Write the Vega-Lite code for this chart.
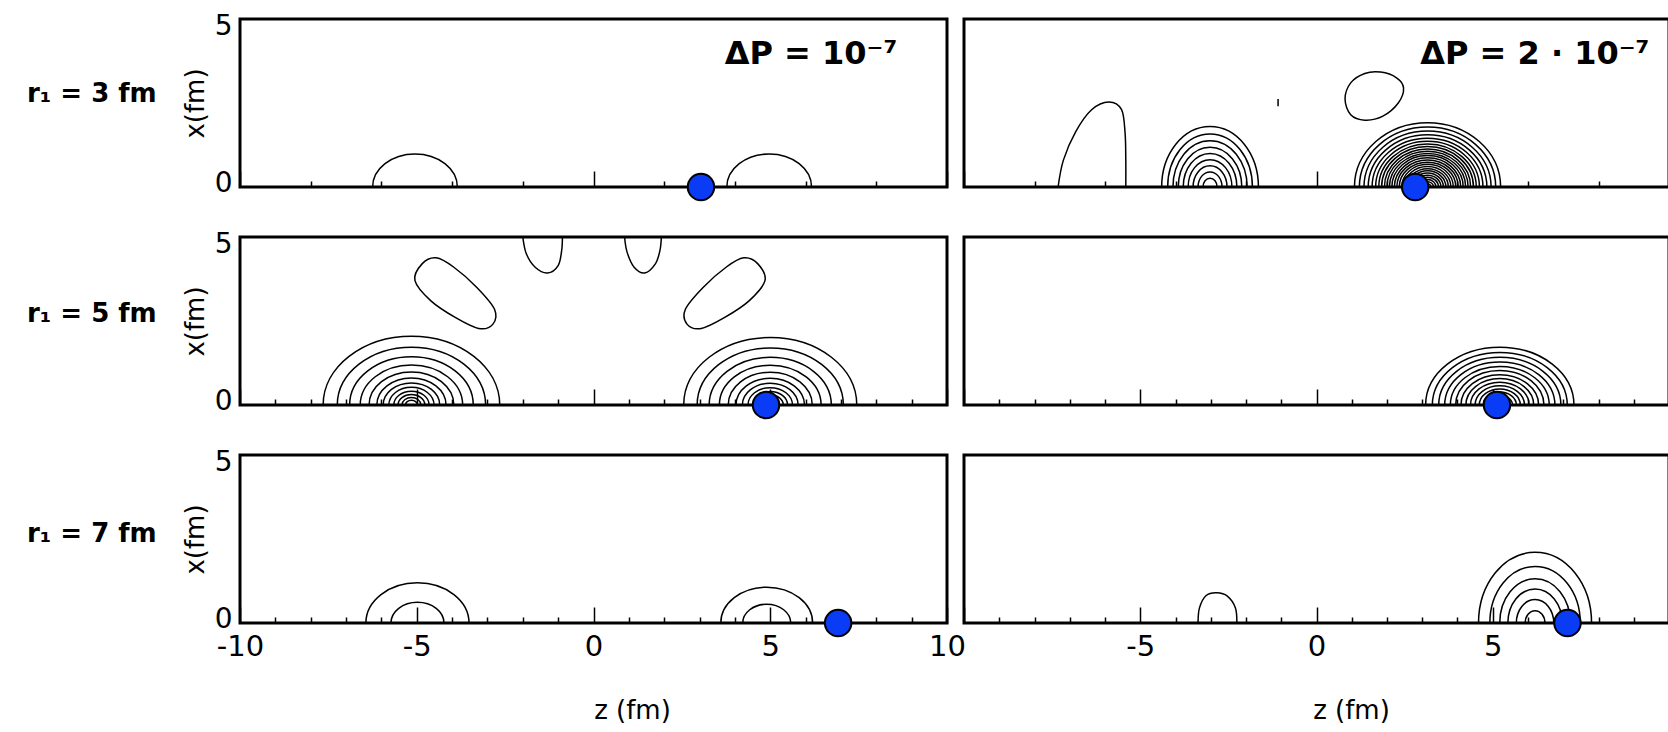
{
  "$schema": "https://vega.github.io/schema/vega-lite/v6.json",
  "background": "white",
  "padding": {"left": 27, "top": 10, "right": 0, "bottom": 0},
  "config": {
    "font": "DejaVu Sans",
    "view": {"stroke": "black", "strokeWidth": 3},
    "axis": {"domain": false, "grid": false, "tickColor": "black", "tickWidth": 1.5, "labelColor": "black", "titleColor": "black"}
  },
  "datasets": {
    "rings": [
      {"panel": "r3a", "z": -5.05, "x": 0, "rz": 1.2, "form": "flat"},
      {"panel": "r3a", "z": 4.97, "x": 0, "rz": 1.2, "form": "flat"},
      {"panel": "r3b", "z": -3.02, "x": 0, "rz": 1.37, "form": "tall"},
      {"panel": "r3b", "z": -3.02, "x": 0, "rz": 1.2, "form": "tall"},
      {"panel": "r3b", "z": -3.02, "x": 0, "rz": 1.05, "form": "tall"},
      {"panel": "r3b", "z": -3.02, "x": 0, "rz": 0.9, "form": "tall"},
      {"panel": "r3b", "z": -3.02, "x": 0, "rz": 0.76, "form": "tall"},
      {"panel": "r3b", "z": -3.02, "x": 0, "rz": 0.62, "form": "tall"},
      {"panel": "r3b", "z": -3.02, "x": 0, "rz": 0.48, "form": "tall"},
      {"panel": "r3b", "z": -3.02, "x": 0, "rz": 0.34, "form": "tall"},
      {"panel": "r3b", "z": -3.02, "x": 0, "rz": 0.2, "form": "tall"},
      {"panel": "r3b", "z": 3.15, "x": 0, "rz": 2.07, "form": "mid"},
      {"panel": "r3b", "z": 3.15, "x": 0, "rz": 1.93, "form": "mid"},
      {"panel": "r3b", "z": 3.15, "x": 0, "rz": 1.8, "form": "mid"},
      {"panel": "r3b", "z": 3.15, "x": 0, "rz": 1.68, "form": "mid"},
      {"panel": "r3b", "z": 3.15, "x": 0, "rz": 1.57, "form": "mid"},
      {"panel": "r3b", "z": 3.15, "x": 0, "rz": 1.47, "form": "mid"},
      {"panel": "r3b", "z": 3.15, "x": 0, "rz": 1.38, "form": "mid"},
      {"panel": "r3b", "z": 3.15, "x": 0, "rz": 1.3, "form": "mid"},
      {"panel": "r3b", "z": 3.15, "x": 0, "rz": 1.22, "form": "mid"},
      {"panel": "r3b", "z": 3.15, "x": 0, "rz": 1.15, "form": "mid"},
      {"panel": "r3b", "z": 3.15, "x": 0, "rz": 1.08, "form": "mid"},
      {"panel": "r3b", "z": 3.15, "x": 0, "rz": 1.01, "form": "mid"},
      {"panel": "r3b", "z": 3.15, "x": 0, "rz": 0.94, "form": "mid"},
      {"panel": "r3b", "z": 3.15, "x": 0, "rz": 0.87, "form": "mid"},
      {"panel": "r3b", "z": 3.15, "x": 0, "rz": 0.8, "form": "mid"},
      {"panel": "r3b", "z": 3.15, "x": 0, "rz": 0.73, "form": "mid"},
      {"panel": "r3b", "z": 3.15, "x": 0, "rz": 0.66, "form": "mid"},
      {"panel": "r3b", "z": 3.15, "x": 0, "rz": 0.59, "form": "mid"},
      {"panel": "r3b", "z": 3.15, "x": 0, "rz": 0.52, "form": "mid"},
      {"panel": "r3b", "z": 3.15, "x": 0, "rz": 0.45, "form": "mid"},
      {"panel": "r3b", "z": 3.15, "x": 0, "rz": 0.38, "form": "mid"},
      {"panel": "r3b", "z": 3.15, "x": 0, "rz": 0.31, "form": "mid"},
      {"panel": "r3b", "z": 3.15, "x": 0, "rz": 0.24, "form": "mid"},
      {"panel": "r3b", "z": 3.15, "x": 0, "rz": 0.17, "form": "mid"},
      {"panel": "r3b", "z": 3.15, "x": 0, "rz": 0.1, "form": "mid"},
      {"panel": "r5a", "z": -5.15, "x": 0, "rz": 2.5, "form": "flat"},
      {"panel": "r5a", "z": -5.15, "x": 0, "rz": 2.1, "form": "flat"},
      {"panel": "r5a", "z": -5.15, "x": 0, "rz": 1.75, "form": "flat"},
      {"panel": "r5a", "z": -5.15, "x": 0, "rz": 1.45, "form": "flat"},
      {"panel": "r5a", "z": -5.15, "x": 0, "rz": 1.2, "form": "flat"},
      {"panel": "r5a", "z": -5.15, "x": 0, "rz": 0.98, "form": "flat"},
      {"panel": "r5a", "z": -5.15, "x": 0, "rz": 0.8, "form": "flat"},
      {"panel": "r5a", "z": -5.15, "x": 0, "rz": 0.64, "form": "flat"},
      {"panel": "r5a", "z": -5.15, "x": 0, "rz": 0.5, "form": "flat"},
      {"panel": "r5a", "z": -5.15, "x": 0, "rz": 0.38, "form": "flat"},
      {"panel": "r5a", "z": -5.15, "x": 0, "rz": 0.27, "form": "flat"},
      {"panel": "r5a", "z": -5.15, "x": 0, "rz": 0.17, "form": "flat"},
      {"panel": "r5a", "z": 5.0, "x": 0, "rz": 2.45, "form": "flat"},
      {"panel": "r5a", "z": 5.0, "x": 0, "rz": 2.07, "form": "flat"},
      {"panel": "r5a", "z": 5.0, "x": 0, "rz": 1.73, "form": "flat"},
      {"panel": "r5a", "z": 5.0, "x": 0, "rz": 1.44, "form": "flat"},
      {"panel": "r5a", "z": 5.0, "x": 0, "rz": 1.19, "form": "flat"},
      {"panel": "r5a", "z": 5.0, "x": 0, "rz": 0.97, "form": "flat"},
      {"panel": "r5a", "z": 5.0, "x": 0, "rz": 0.79, "form": "flat"},
      {"panel": "r5a", "z": 5.0, "x": 0, "rz": 0.63, "form": "flat"},
      {"panel": "r5a", "z": 5.0, "x": 0, "rz": 0.49, "form": "flat"},
      {"panel": "r5a", "z": 5.0, "x": 0, "rz": 0.37, "form": "flat"},
      {"panel": "r5a", "z": 5.0, "x": 0, "rz": 0.26, "form": "flat"},
      {"panel": "r5a", "z": 5.0, "x": 0, "rz": 0.16, "form": "flat"},
      {"panel": "r5b", "z": 5.2, "x": 0, "rz": 2.1, "form": "flat"},
      {"panel": "r5b", "z": 5.2, "x": 0, "rz": 1.91, "form": "flat"},
      {"panel": "r5b", "z": 5.2, "x": 0, "rz": 1.73, "form": "flat"},
      {"panel": "r5b", "z": 5.2, "x": 0, "rz": 1.56, "form": "flat"},
      {"panel": "r5b", "z": 5.2, "x": 0, "rz": 1.4, "form": "flat"},
      {"panel": "r5b", "z": 5.2, "x": 0, "rz": 1.25, "form": "flat"},
      {"panel": "r5b", "z": 5.2, "x": 0, "rz": 1.1, "form": "flat"},
      {"panel": "r5b", "z": 5.2, "x": 0, "rz": 0.96, "form": "flat"},
      {"panel": "r5b", "z": 5.2, "x": 0, "rz": 0.83, "form": "flat"},
      {"panel": "r5b", "z": 5.2, "x": 0, "rz": 0.7, "form": "flat"},
      {"panel": "r5b", "z": 5.2, "x": 0, "rz": 0.58, "form": "flat"},
      {"panel": "r5b", "z": 5.2, "x": 0, "rz": 0.47, "form": "flat"},
      {"panel": "r5b", "z": 5.2, "x": 0, "rz": 0.36, "form": "flat"},
      {"panel": "r5b", "z": 5.2, "x": 0, "rz": 0.26, "form": "flat"},
      {"panel": "r5b", "z": 5.2, "x": 0, "rz": 0.16, "form": "flat"},
      {"panel": "r7a", "z": -4.98, "x": 0, "rz": 1.46, "form": "flat"},
      {"panel": "r7a", "z": -4.98, "x": 0, "rz": 0.75, "form": "flat"},
      {"panel": "r7a", "z": 4.9, "x": 0, "rz": 1.3, "form": "flat"},
      {"panel": "r7a", "z": 4.9, "x": 0, "rz": 0.68, "form": "flat"},
      {"panel": "r7b", "z": 6.2, "x": 0, "rz": 1.6, "form": "tall"},
      {"panel": "r7b", "z": 6.2, "x": 0, "rz": 1.28, "form": "tall"},
      {"panel": "r7b", "z": 6.2, "x": 0, "rz": 1.0, "form": "tall"},
      {"panel": "r7b", "z": 6.2, "x": 0, "rz": 0.77, "form": "tall"},
      {"panel": "r7b", "z": 6.2, "x": 0, "rz": 0.53, "form": "tall"},
      {"panel": "r7b", "z": 6.2, "x": 0, "rz": 0.28, "form": "tall"}
    ],
    "curves": [
      {"panel": "r3b", "id": "t1", "seq": 1, "z": -7.33, "x": 0},
      {"panel": "r3b", "id": "t1", "seq": 2, "z": -7.18, "x": 0.8},
      {"panel": "r3b", "id": "t1", "seq": 3, "z": -6.83, "x": 1.65},
      {"panel": "r3b", "id": "t1", "seq": 4, "z": -6.38, "x": 2.3},
      {"panel": "r3b", "id": "t1", "seq": 5, "z": -5.89, "x": 2.53},
      {"panel": "r3b", "id": "t1", "seq": 6, "z": -5.53, "x": 2.3},
      {"panel": "r3b", "id": "t1", "seq": 7, "z": -5.43, "x": 1.6},
      {"panel": "r3b", "id": "t1", "seq": 8, "z": -5.41, "x": 0.8},
      {"panel": "r3b", "id": "t1", "seq": 9, "z": -5.41, "x": 0},
      {"panel": "r3b", "id": "t2", "seq": 1, "z": -1.09, "x": 2.4},
      {"panel": "r3b", "id": "t2", "seq": 2, "z": -1.09, "x": 2.62},
      {"panel": "r5a", "id": "a1", "seq": 1, "z": -2.0, "x": 5},
      {"panel": "r5a", "id": "a1", "seq": 2, "z": -1.9, "x": 4.5},
      {"panel": "r5a", "id": "a1", "seq": 3, "z": -1.65, "x": 4.1},
      {"panel": "r5a", "id": "a1", "seq": 4, "z": -1.3, "x": 3.93},
      {"panel": "r5a", "id": "a1", "seq": 5, "z": -1.0, "x": 4.15},
      {"panel": "r5a", "id": "a1", "seq": 6, "z": -0.9, "x": 4.6},
      {"panel": "r5a", "id": "a1", "seq": 7, "z": -0.88, "x": 5},
      {"panel": "r5a", "id": "a2", "seq": 1, "z": 0.88, "x": 5},
      {"panel": "r5a", "id": "a2", "seq": 2, "z": 0.95, "x": 4.55},
      {"panel": "r5a", "id": "a2", "seq": 3, "z": 1.15, "x": 4.1},
      {"panel": "r5a", "id": "a2", "seq": 4, "z": 1.45, "x": 3.93},
      {"panel": "r5a", "id": "a2", "seq": 5, "z": 1.75, "x": 4.2},
      {"panel": "r5a", "id": "a2", "seq": 6, "z": 1.88, "x": 4.6},
      {"panel": "r5a", "id": "a2", "seq": 7, "z": 1.92, "x": 5},
      {"panel": "r7b", "id": "b1", "seq": 1, "z": -3.36, "x": 0},
      {"panel": "r7b", "id": "b1", "seq": 2, "z": -3.32, "x": 0.45},
      {"panel": "r7b", "id": "b1", "seq": 3, "z": -3.13, "x": 0.82},
      {"panel": "r7b", "id": "b1", "seq": 4, "z": -2.83, "x": 0.9},
      {"panel": "r7b", "id": "b1", "seq": 5, "z": -2.53, "x": 0.8},
      {"panel": "r7b", "id": "b1", "seq": 6, "z": -2.3, "x": 0.45},
      {"panel": "r7b", "id": "b1", "seq": 7, "z": -2.26, "x": 0}
    ],
    "loops": [
      {"panel": "r3b", "id": "e1", "seq": 1, "z": 0.81, "x": 2.62},
      {"panel": "r3b", "id": "e1", "seq": 2, "z": 0.97, "x": 3.1},
      {"panel": "r3b", "id": "e1", "seq": 3, "z": 1.37, "x": 3.38},
      {"panel": "r3b", "id": "e1", "seq": 4, "z": 1.82, "x": 3.42},
      {"panel": "r3b", "id": "e1", "seq": 5, "z": 2.27, "x": 3.25},
      {"panel": "r3b", "id": "e1", "seq": 6, "z": 2.47, "x": 2.95},
      {"panel": "r3b", "id": "e1", "seq": 7, "z": 2.32, "x": 2.5},
      {"panel": "r3b", "id": "e1", "seq": 8, "z": 1.87, "x": 2.1},
      {"panel": "r3b", "id": "e1", "seq": 9, "z": 1.37, "x": 1.99},
      {"panel": "r3b", "id": "e1", "seq": 10, "z": 0.97, "x": 2.15},
      {"panel": "r5a", "id": "e2", "seq": 1, "z": -5.05, "x": 3.7},
      {"panel": "r5a", "id": "e2", "seq": 2, "z": -4.85, "x": 4.2},
      {"panel": "r5a", "id": "e2", "seq": 3, "z": -4.45, "x": 4.38},
      {"panel": "r5a", "id": "e2", "seq": 4, "z": -3.95, "x": 4.1},
      {"panel": "r5a", "id": "e2", "seq": 5, "z": -3.3, "x": 3.5},
      {"panel": "r5a", "id": "e2", "seq": 6, "z": -2.8, "x": 2.85},
      {"panel": "r5a", "id": "e2", "seq": 7, "z": -2.85, "x": 2.4},
      {"panel": "r5a", "id": "e2", "seq": 8, "z": -3.25, "x": 2.28},
      {"panel": "r5a", "id": "e2", "seq": 9, "z": -3.9, "x": 2.6},
      {"panel": "r5a", "id": "e2", "seq": 10, "z": -4.6, "x": 3.1},
      {"panel": "r5a", "id": "e3", "seq": 1, "z": 4.85, "x": 3.7},
      {"panel": "r5a", "id": "e3", "seq": 2, "z": 4.65, "x": 4.2},
      {"panel": "r5a", "id": "e3", "seq": 3, "z": 4.25, "x": 4.38},
      {"panel": "r5a", "id": "e3", "seq": 4, "z": 3.75, "x": 4.1},
      {"panel": "r5a", "id": "e3", "seq": 5, "z": 3.1, "x": 3.5},
      {"panel": "r5a", "id": "e3", "seq": 6, "z": 2.6, "x": 2.85},
      {"panel": "r5a", "id": "e3", "seq": 7, "z": 2.65, "x": 2.4},
      {"panel": "r5a", "id": "e3", "seq": 8, "z": 3.05, "x": 2.28},
      {"panel": "r5a", "id": "e3", "seq": 9, "z": 3.7, "x": 2.6},
      {"panel": "r5a", "id": "e3", "seq": 10, "z": 4.4, "x": 3.1}
    ],
    "dots": [
      {"panel": "r3a", "z": 3.04, "x": 0},
      {"panel": "r3b", "z": 2.8, "x": 0},
      {"panel": "r5a", "z": 4.88, "x": 0},
      {"panel": "r5b", "z": 5.12, "x": 0},
      {"panel": "r7a", "z": 6.92, "x": 0},
      {"panel": "r7b", "z": 7.12, "x": 0}
    ]
  },
  "vconcat": [
    {
      "title": {"text": "r₁ = 3 fm", "orient": "left", "anchor": "middle", "angle": 0, "align": "left", "baseline": "middle", "fontSize": 26, "fontWeight": "bold", "offset": 24, "dy": -14},
      "bounds": "flush",
      "spacing": 17,
      "hconcat": [
        {
          "width": 707, "height": 168,
          "layer": [
            {
              "encoding": {
                "x": {"field": "z", "type": "quantitative", "scale": {"domain": [-10, 10], "nice": false, "zero": false},
                      "axis": {"values": [-10,-9,-8,-7,-6,-5,-4,-3,-2,-1,0,1,2,3,4,5,6,7,8,9,10], "labels": false, "title": null,
                               "tickSize": {"condition": {"test": "datum.value % 5 === 0", "value": -16}, "value": -6}}},
                "y": {"field": "x", "type": "quantitative", "scale": {"domain": [0, 5], "nice": false, "zero": false},
                      "axis": {"values": [0, 5], "ticks": false, "labelFontSize": 28, "labelPadding": 8,
                               "labelOffset": {"condition": {"test": "datum.value === 5", "value": 7}, "value": -4},
                               "title": "x(fm)", "titleFontSize": 26, "titleFontWeight": "normal", "titlePadding": 6}}
              },
              "layer": [
                {"data": {"name": "rings"}, "transform": [{"filter": "datum.panel === 'r3a'"}],
                 "mark": {"type": "point", "filled": false, "stroke": "black", "strokeWidth": 1.5, "opacity": 1},
                 "encoding": {
                   "size": {"field": "rz", "type": "quantitative", "scale": {"type": "pow", "exponent": 2, "domain": [0, 1], "range": [0, 4990]}, "legend": null},
                   "shape": {"field": "form", "type": "nominal", "legend": null, "scale": {"domain": ["flat", "mid", "round", "tall"], "range": [
                     "M-1,0C-1,-0.431,-0.552,-0.78,0,-0.78C0.552,-0.78,1,-0.431,1,0",
                     "M-1,0C-1,-0.486,-0.552,-0.88,0,-0.88C0.552,-0.88,1,-0.486,1,0",
                     "M-1,0C-1,-0.552,-0.552,-1,0,-1C0.552,-1,1,-0.552,1,0",
                     "M-1,0C-1,-0.69,-0.552,-1.25,0,-1.25C0.552,-1.25,1,-0.69,1,0"]}}
                 }},
                {"data": {"name": "dots"}, "transform": [{"filter": "datum.panel === 'r3a'"}],
                 "mark": {"type": "point", "shape": "circle", "filled": true, "fill": "#0a3cf5", "stroke": "black", "strokeWidth": 2, "size": 700, "opacity": 1}}
              ]
            },
            {"data": {"values": [{"label": "ΔP = 10⁻⁷"}]},
             "mark": {"type": "text", "align": "right", "baseline": "alphabetic", "fontSize": 32, "fontWeight": "bold", "color": "black"},
             "encoding": {"x": {"datum": 8.6, "type": "quantitative"}, "y": {"datum": 3.65, "type": "quantitative"}, "text": {"field": "label", "type": "nominal"}}}
          ]
        },
        {
          "width": 705, "height": 168,
          "layer": [
            {
              "encoding": {
                "x": {"field": "z", "type": "quantitative", "scale": {"domain": [-10, 10], "nice": false, "zero": false},
                      "axis": {"values": [-10,-9,-8,-7,-6,-5,-4,-3,-2,-1,0,1,2,3,4,5,6,7,8,9,10], "labels": false, "title": null,
                               "tickSize": {"condition": {"test": "datum.value % 5 === 0", "value": -16}, "value": -6}}},
                "y": {"field": "x", "type": "quantitative", "scale": {"domain": [0, 5], "nice": false, "zero": false},
                      "axis": {"labels": false, "ticks": false, "title": null}}
              },
              "layer": [
                {"data": {"name": "rings"}, "transform": [{"filter": "datum.panel === 'r3b'"}],
                 "mark": {"type": "point", "filled": false, "stroke": "black", "strokeWidth": 1.5, "opacity": 1},
                 "encoding": {
                   "size": {"field": "rz", "type": "quantitative", "scale": {"type": "pow", "exponent": 2, "domain": [0, 1], "range": [0, 4990]}, "legend": null},
                   "shape": {"field": "form", "type": "nominal", "legend": null, "scale": {"domain": ["flat", "mid", "round", "tall"], "range": [
                     "M-1,0C-1,-0.431,-0.552,-0.78,0,-0.78C0.552,-0.78,1,-0.431,1,0",
                     "M-1,0C-1,-0.486,-0.552,-0.88,0,-0.88C0.552,-0.88,1,-0.486,1,0",
                     "M-1,0C-1,-0.552,-0.552,-1,0,-1C0.552,-1,1,-0.552,1,0",
                     "M-1,0C-1,-0.69,-0.552,-1.25,0,-1.25C0.552,-1.25,1,-0.69,1,0"]}}
                 }},
                {"data": {"name": "curves"}, "transform": [{"filter": "datum.panel === 'r3b'"}],
                 "mark": {"type": "line", "stroke": "black", "strokeWidth": 1.5, "interpolate": "cardinal"},
                 "encoding": {"detail": {"field": "id"}, "order": {"field": "seq", "type": "quantitative"}}},
                {"data": {"name": "loops"}, "transform": [{"filter": "datum.panel === 'r3b'"}],
                 "mark": {"type": "line", "stroke": "black", "strokeWidth": 1.5, "interpolate": "cardinal-closed"},
                 "encoding": {"detail": {"field": "id"}, "order": {"field": "seq", "type": "quantitative"}}},
                {"data": {"name": "dots"}, "transform": [{"filter": "datum.panel === 'r3b'"}],
                 "mark": {"type": "point", "shape": "circle", "filled": true, "fill": "#0a3cf5", "stroke": "black", "strokeWidth": 2, "size": 700, "opacity": 1}}
              ]
            },
            {"data": {"values": [{"label": "ΔP = 2 · 10⁻⁷"}]},
             "mark": {"type": "text", "align": "right", "baseline": "alphabetic", "fontSize": 32, "fontWeight": "bold", "color": "black"},
             "encoding": {"x": {"datum": 9.45, "type": "quantitative"}, "y": {"datum": 3.65, "type": "quantitative"}, "text": {"field": "label", "type": "nominal"}}}
          ]
        }
      ]
    },
    {
      "title": {"text": "r₁ = 5 fm", "orient": "left", "anchor": "middle", "angle": 0, "align": "left", "baseline": "middle", "fontSize": 26, "fontWeight": "bold", "offset": 24, "dy": -12},
      "bounds": "flush",
      "spacing": 17,
      "hconcat": [
        {
          "width": 707, "height": 168,
          "encoding": {
            "x": {"field": "z", "type": "quantitative", "scale": {"domain": [-10, 10], "nice": false, "zero": false},
                  "axis": {"values": [-10,-9,-8,-7,-6,-5,-4,-3,-2,-1,0,1,2,3,4,5,6,7,8,9,10], "labels": false, "title": null,
                           "tickSize": {"condition": {"test": "datum.value % 5 === 0", "value": -16}, "value": -6}}},
            "y": {"field": "x", "type": "quantitative", "scale": {"domain": [0, 5], "nice": false, "zero": false},
                  "axis": {"values": [0, 5], "ticks": false, "labelFontSize": 28, "labelPadding": 8,
                           "labelOffset": {"condition": {"test": "datum.value === 5", "value": 7}, "value": -4},
                           "title": "x(fm)", "titleFontSize": 26, "titleFontWeight": "normal", "titlePadding": 6}}
          },
          "layer": [
            {"data": {"name": "rings"}, "transform": [{"filter": "datum.panel === 'r5a'"}],
             "mark": {"type": "point", "filled": false, "stroke": "black", "strokeWidth": 1.5, "opacity": 1},
             "encoding": {
               "size": {"field": "rz", "type": "quantitative", "scale": {"type": "pow", "exponent": 2, "domain": [0, 1], "range": [0, 4990]}, "legend": null},
               "shape": {"field": "form", "type": "nominal", "legend": null, "scale": {"domain": ["flat", "mid", "round", "tall"], "range": [
                 "M-1,0C-1,-0.431,-0.552,-0.78,0,-0.78C0.552,-0.78,1,-0.431,1,0",
                 "M-1,0C-1,-0.486,-0.552,-0.88,0,-0.88C0.552,-0.88,1,-0.486,1,0",
                 "M-1,0C-1,-0.552,-0.552,-1,0,-1C0.552,-1,1,-0.552,1,0",
                 "M-1,0C-1,-0.69,-0.552,-1.25,0,-1.25C0.552,-1.25,1,-0.69,1,0"]}}
             }},
            {"data": {"name": "curves"}, "transform": [{"filter": "datum.panel === 'r5a'"}],
             "mark": {"type": "line", "stroke": "black", "strokeWidth": 1.5, "interpolate": "cardinal"},
             "encoding": {"detail": {"field": "id"}, "order": {"field": "seq", "type": "quantitative"}}},
            {"data": {"name": "loops"}, "transform": [{"filter": "datum.panel === 'r5a'"}],
             "mark": {"type": "line", "stroke": "black", "strokeWidth": 1.5, "interpolate": "cardinal-closed"},
             "encoding": {"detail": {"field": "id"}, "order": {"field": "seq", "type": "quantitative"}}},
            {"data": {"name": "dots"}, "transform": [{"filter": "datum.panel === 'r5a'"}],
             "mark": {"type": "point", "shape": "circle", "filled": true, "fill": "#0a3cf5", "stroke": "black", "strokeWidth": 2, "size": 700, "opacity": 1}}
          ]
        },
        {
          "width": 705, "height": 168,
          "encoding": {
            "x": {"field": "z", "type": "quantitative", "scale": {"domain": [-10, 10], "nice": false, "zero": false},
                  "axis": {"values": [-10,-9,-8,-7,-6,-5,-4,-3,-2,-1,0,1,2,3,4,5,6,7,8,9,10], "labels": false, "title": null,
                           "tickSize": {"condition": {"test": "datum.value % 5 === 0", "value": -16}, "value": -6}}},
            "y": {"field": "x", "type": "quantitative", "scale": {"domain": [0, 5], "nice": false, "zero": false},
                  "axis": {"labels": false, "ticks": false, "title": null}}
          },
          "layer": [
            {"data": {"name": "rings"}, "transform": [{"filter": "datum.panel === 'r5b'"}],
             "mark": {"type": "point", "filled": false, "stroke": "black", "strokeWidth": 1.5, "opacity": 1},
             "encoding": {
               "size": {"field": "rz", "type": "quantitative", "scale": {"type": "pow", "exponent": 2, "domain": [0, 1], "range": [0, 4990]}, "legend": null},
               "shape": {"field": "form", "type": "nominal", "legend": null, "scale": {"domain": ["flat", "mid", "round", "tall"], "range": [
                 "M-1,0C-1,-0.431,-0.552,-0.78,0,-0.78C0.552,-0.78,1,-0.431,1,0",
                 "M-1,0C-1,-0.486,-0.552,-0.88,0,-0.88C0.552,-0.88,1,-0.486,1,0",
                 "M-1,0C-1,-0.552,-0.552,-1,0,-1C0.552,-1,1,-0.552,1,0",
                 "M-1,0C-1,-0.69,-0.552,-1.25,0,-1.25C0.552,-1.25,1,-0.69,1,0"]}}
             }},
            {"data": {"name": "dots"}, "transform": [{"filter": "datum.panel === 'r5b'"}],
             "mark": {"type": "point", "shape": "circle", "filled": true, "fill": "#0a3cf5", "stroke": "black", "strokeWidth": 2, "size": 700, "opacity": 1}}
          ]
        }
      ]
    },
    {
      "title": {"text": "r₁ = 7 fm", "orient": "left", "anchor": "middle", "angle": 0, "align": "left", "baseline": "middle", "fontSize": 26, "fontWeight": "bold", "offset": 24, "dy": -52},
      "bounds": "flush",
      "spacing": 17,
      "hconcat": [
        {
          "width": 707, "height": 168,
          "encoding": {
            "x": {"field": "z", "type": "quantitative", "scale": {"domain": [-10, 10], "nice": false, "zero": false},
                  "axis": {"values": [-10,-9,-8,-7,-6,-5,-4,-3,-2,-1,0,1,2,3,4,5,6,7,8,9,10],
                           "labelExpr": "datum.value % 5 === 0 ? (datum.value < 0 ? '-' : '') + abs(datum.value) : ''",
                           "labelFontSize": 29, "labelFlush": false, "labelOverlap": false, "labelPadding": 25,
                           "tickSize": {"condition": {"test": "datum.value % 5 === 0", "value": -16}, "value": -6},
                           "title": "z (fm)", "titleFontSize": 26, "titleFontWeight": "normal", "titleX": 392, "titlePadding": 26}},
            "y": {"field": "x", "type": "quantitative", "scale": {"domain": [0, 5], "nice": false, "zero": false},
                  "axis": {"values": [0, 5], "ticks": false, "labelFontSize": 28, "labelPadding": 8,
                           "labelOffset": {"condition": {"test": "datum.value === 5", "value": 7}, "value": -4},
                           "title": "x(fm)", "titleFontSize": 26, "titleFontWeight": "normal", "titlePadding": 6}}
          },
          "layer": [
            {"data": {"name": "rings"}, "transform": [{"filter": "datum.panel === 'r7a'"}],
             "mark": {"type": "point", "filled": false, "stroke": "black", "strokeWidth": 1.5, "opacity": 1},
             "encoding": {
               "size": {"field": "rz", "type": "quantitative", "scale": {"type": "pow", "exponent": 2, "domain": [0, 1], "range": [0, 4990]}, "legend": null},
               "shape": {"field": "form", "type": "nominal", "legend": null, "scale": {"domain": ["flat", "mid", "round", "tall"], "range": [
                 "M-1,0C-1,-0.431,-0.552,-0.78,0,-0.78C0.552,-0.78,1,-0.431,1,0",
                 "M-1,0C-1,-0.486,-0.552,-0.88,0,-0.88C0.552,-0.88,1,-0.486,1,0",
                 "M-1,0C-1,-0.552,-0.552,-1,0,-1C0.552,-1,1,-0.552,1,0",
                 "M-1,0C-1,-0.69,-0.552,-1.25,0,-1.25C0.552,-1.25,1,-0.69,1,0"]}}
             }},
            {"data": {"name": "dots"}, "transform": [{"filter": "datum.panel === 'r7a'"}],
             "mark": {"type": "point", "shape": "circle", "filled": true, "fill": "#0a3cf5", "stroke": "black", "strokeWidth": 2, "size": 700, "opacity": 1}}
          ]
        },
        {
          "width": 705, "height": 168,
          "encoding": {
            "x": {"field": "z", "type": "quantitative", "scale": {"domain": [-10, 10], "nice": false, "zero": false},
                  "axis": {"values": [-10,-9,-8,-7,-6,-5,-4,-3,-2,-1,0,1,2,3,4,5,6,7,8,9,10],
                           "labelExpr": "datum.value % 5 === 0 && abs(datum.value) < 10 ? (datum.value < 0 ? '-' : '') + abs(datum.value) : ''",
                           "labelFontSize": 29, "labelFlush": false, "labelOverlap": false, "labelPadding": 25,
                           "tickSize": {"condition": {"test": "datum.value % 5 === 0", "value": -16}, "value": -6},
                           "title": "z (fm)", "titleFontSize": 26, "titleFontWeight": "normal", "titleX": 387, "titlePadding": 26}},
            "y": {"field": "x", "type": "quantitative", "scale": {"domain": [0, 5], "nice": false, "zero": false},
                  "axis": {"labels": false, "ticks": false, "title": null}}
          },
          "layer": [
            {"data": {"name": "rings"}, "transform": [{"filter": "datum.panel === 'r7b'"}],
             "mark": {"type": "point", "filled": false, "stroke": "black", "strokeWidth": 1.5, "opacity": 1},
             "encoding": {
               "size": {"field": "rz", "type": "quantitative", "scale": {"type": "pow", "exponent": 2, "domain": [0, 1], "range": [0, 4990]}, "legend": null},
               "shape": {"field": "form", "type": "nominal", "legend": null, "scale": {"domain": ["flat", "mid", "round", "tall"], "range": [
                 "M-1,0C-1,-0.431,-0.552,-0.78,0,-0.78C0.552,-0.78,1,-0.431,1,0",
                 "M-1,0C-1,-0.486,-0.552,-0.88,0,-0.88C0.552,-0.88,1,-0.486,1,0",
                 "M-1,0C-1,-0.552,-0.552,-1,0,-1C0.552,-1,1,-0.552,1,0",
                 "M-1,0C-1,-0.69,-0.552,-1.25,0,-1.25C0.552,-1.25,1,-0.69,1,0"]}}
             }},
            {"data": {"name": "curves"}, "transform": [{"filter": "datum.panel === 'r7b'"}],
             "mark": {"type": "line", "stroke": "black", "strokeWidth": 1.5, "interpolate": "cardinal"},
             "encoding": {"detail": {"field": "id"}, "order": {"field": "seq", "type": "quantitative"}}},
            {"data": {"name": "dots"}, "transform": [{"filter": "datum.panel === 'r7b'"}],
             "mark": {"type": "point", "shape": "circle", "filled": true, "fill": "#0a3cf5", "stroke": "black", "strokeWidth": 2, "size": 700, "opacity": 1}}
          ]
        }
      ]
    }
  ],
  "spacing": 22
}
